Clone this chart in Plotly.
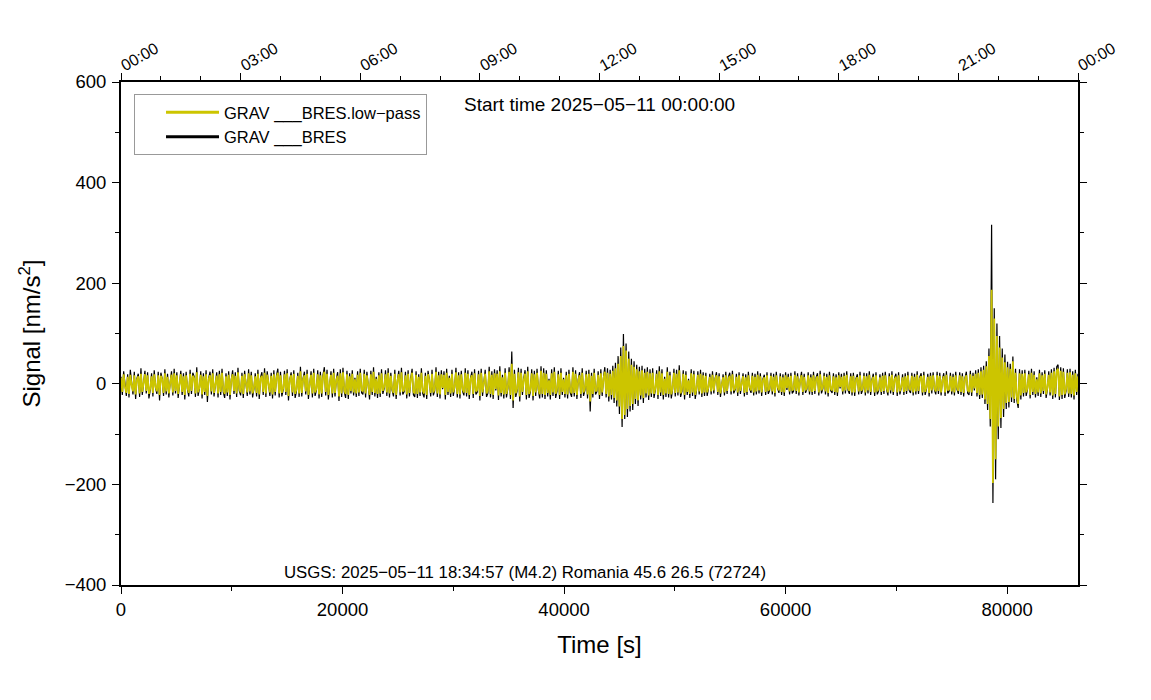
import plotly.graph_objects as go

# ---------------- data ----------------
SAMPLE_INTERVAL = 120  # seconds between samples

raw_signal = [
    14, -22, 25, -9, -24, 19, -27, 28, -4, -21, 24, -30, 11, 20, -26, 31, -22, 6, 26, -19, 23, -29, -12, 21, -25, 27, -8, -20, 24, -33, 22, 10, -24, 29, -21, 20, -27, 3, 25, -23,
    30, -19, 23, -28, 7, 26, -22, 21, -31, 24, -11, -25, 28, -20, 22, 15, -26, 33, -24, -9, 25, -29, 21, -22, 27, -36, 12, 24, -21, 29, -25, -5, 23, -27, 26, -22, 30, -17, -28, 21,
    -24, 25, -31, 9, 27, -20, 23, -26, 32, -14, -23, 22, -28, 26, 5, -24, 29, -21, 24, -27, -10, 21, -25, 28, -30, 13, 23, -22, 31, -26, 25, -8, -24, 22, -29, 27, -23, 17, 30, -27,
    24, -25, -12, 26, -22, 29, -33, 8, 23, -24, 27, -28, -15, 22, -26, 34, -25, 11, 24, -21, 28, -30, 6, 25, -27, 30, -24, -13, 27, -29, 24, -26, 18, 33, -23, 28, -31, -7, 25, -27,
    30, -25, 9, 23, -34, 29, -26, 32, -16, -28, 26, -30, 21, -19, 27, -23, 12, -26, 25, -24, 30, -18, -21, 28, -27, 24, -10, -31, 26, -22, 33, -25, 14, -28, 23, -26, 29, -20, -9, 27,
    -24, 31, -27, 22, -13, -25, 28, -30, 8, 26, -23, 32, -21, -16, 24, -29, 27, -25, 11, 30, -22, -26, 25, -28, 19, -24, 31, -19, -27, 22, -30, 26, 7, -25, 28, -23, -14, 33, -26, 24,
    -29, 27, -11, 25, -31, 30, -22, 16, -26, 28, -24, -8, 32, -27, 23, -29, 26, -15, -23, 31, -25, 27, -30, 12, 24, -28, 29, -21, -17, 26, -33, 30, -24, 9, 28, -26, -19, 34, -27, 25,
    -30, 29, -13, 27, -32, 35, -25, 18, -29, 31, -27, -10, 33, -30, 64, -48, 28, -26, -14, 32, -35, 30, -22, 11, 27, -31, 34, -28, -16, 29, -33, 26, -24, 30, -12, -29, 35, -27, 31, -30,
    27, -25, 10, -31, 29, -24, 33, -28, -15, 26, -30, 31, -22, 12, -27, 24, -29, 28, -18, -26, 33, -25, 27, -30, 9, 23, -28, 31, -24, -13, 26, -29, 28, -55, 22, -27, 30, -21, -16, 25,
    -30, 29, -24, 13, 33, -27, 31, -35, 28, -31, 36, -38, 42, -45, 55, -60, 72, -86, 99, -70, 80, -66, 64, -55, 50, -52, 45, -40, 38, -44, 34, -31, 36, -38, 30, -27, 33, -32, 29, -26,
    31, -28, -12, 27, -30, 35, -24, 29, -31, 14, -26, 33, -27, 24, -29, -11, 30, -25, 28, -23, 37, -26, -15, 27, -31, 25, -22, 10, -28, 29, -24, 26, -30, -13, 25, -21, 28, -26, 23, -24,
    22, -24, -9, 20, -21, 25, -19, 11, 23, -22, 21, -26, -8, 19, -23, 24, -20, 14, 22, -21, 26, -19, -12, 20, -24, 23, -20, 7, 21, -25, 19, -22, 24, -10, -18, 22, -23, 20, -21, 25,
    -19, 21, -24, 10, 18, -22, 23, -20, -13, 22, -21, 20, -25, 24, -9, -18, 21, -22, 19, -24, 23, -12, 20, -21, 22, -19, -15, 25, -20, 21, -23, 8, 24, -22, 20, -18, -11, 23, -21, 19,
    -22, 24, -20, 13, 21, -23, 26, -19, -10, 22, -21, 20, -25, 24, -14, -18, 21, -22, 19, -24, 23, -9, 20, -21, 22, -19, 25, -13, -20, 21, -23, 22, -24, 11, 19, -21, 24, -20, -12, 22,
    -23, 21, -19, 25, -22, 9, 20, -24, 23, -21, -14, 19, -22, 22, -20, 24, -11, -23, 21, -19, 25, -22, 12, 20, -24, 23, -21, -8, 19, -22, 21, -20, 24, -13, -18, 22, -23, 20, -21, 25,
    -20, 14, 21, -23, 24, -22, -10, 20, -25, 22, -19, 23, -12, -21, 24, -20, 22, -23, 9, 21, -24, 25, -19, -15, 22, -21, 20, -23, 24, -11, -20, 23, -22, 21, -25, 12, 24, -19, -22, 26,
    -24, 22, -13, 27, -25, 29, -30, 33, -28, 36, -40, 45, -52, 70, -85, 316, -237, 150, -190, 120, -110, 95, -88, 70, -66, 58, -50, 44, -47, 40, -36, 54, -38, 30, -33, -48, 29, -31, 27, -25,
    28, -24, -11, 26, -29, 30, -22, 25, -27, 13, -24, 28, -26, 23, -20, 27, -28, -10, 25, -23, 29, -30, 32, -27, 34, 38, -32, 33, -30, 31, -28, -14, 29, -26, 30, -27, 25, -31, 28, -22,
    20,
]

lowpass_signal = [
    12, -16, 19, -7, -18, 14, -20, 18, -3, -15, 17, -21, 8, 15, -19, 20, -16, 5, 19, -14, 17, -20, -9, 15, -18, 19, -6, -15, 17, -22, 16, 8, -18, 21, -15, 14, -19, 2, 18, -17,
    21, -14, 17, -20, 5, 19, -16, 15, -22, 17, -8, -18, 20, -14, 16, 11, -19, 23, -17, -7, 18, -21, 15, -16, 19, -24, 9, 17, -15, 21, -18, -4, 16, -19, 19, -16, 22, -12, -20, 15,
    -17, 18, -22, 7, 19, -14, 16, -19, 23, -10, -17, 16, -20, 19, 4, -17, 21, -15, 17, -19, -8, 15, -18, 20, -21, 10, 16, -16, 22, -19, 18, -6, -17, 16, -21, 19, -16, 12, 22, -19,
    17, -18, -9, 19, -16, 21, -24, 6, 17, -17, 20, -20, -11, 16, -19, 25, -18, 8, 17, -15, 20, -22, 4, 18, -19, 22, -17, -10, 19, -21, 17, -19, 13, 24, -16, 20, -22, -5, 18, -19,
    22, -18, 7, 16, -25, 21, -19, 23, -12, -20, 19, -22, 15, -14, 20, -17, 9, -19, 18, -17, 22, -13, -15, 20, -19, 17, -7, -22, 19, -16, 24, -18, 10, -20, 17, -19, 21, -14, -6, 19,
    -17, 22, -19, 16, -10, -18, 20, -22, 6, 19, -17, 23, -15, -12, 17, -21, 20, -18, 8, 22, -16, -19, 18, -20, 14, -17, 22, -14, -19, 16, -22, 19, 5, -18, 20, -17, -10, 24, -19, 17,
    -21, 19, -8, 18, -22, 22, -16, 12, -19, 20, -17, -6, 23, -20, 17, -21, 19, -11, -17, 22, -18, 20, -22, 9, 17, -20, 21, -15, -12, 19, -24, 22, -17, 7, 20, -19, -14, 25, -20, 18,
    -22, 21, -10, 20, -23, 25, -18, 13, -21, 22, -20, -7, 24, -22, 40, -33, 20, -19, -10, 23, -25, 22, -16, 8, 20, -22, 25, -20, -12, 21, -24, 19, -17, 22, -9, -21, 26, -20, 22, -22,
    20, -18, 7, -22, 21, -17, 24, -20, -11, 19, -22, 22, -16, 9, -20, 17, -21, 20, -13, -19, 24, -18, 20, -22, 6, 17, -20, 22, -17, -9, 19, -21, 20, -35, 16, -20, 22, -15, -12, 18,
    -22, 21, -17, 10, 24, -20, 22, -25, 20, -22, 26, -28, 31, -33, 40, -45, 55, -70, 75, -62, 66, -50, 50, -44, 38, -40, 34, -30, 29, -33, 25, -23, 27, -28, 22, -19, 24, -23, 21, -19,
    22, -20, -9, 20, -22, 25, -17, 21, -22, 10, -19, 24, -20, 17, -21, -8, 22, -18, 20, -17, 27, -19, -11, 20, -22, 18, -16, 7, -20, 21, -17, 19, -22, -9, 18, -15, 20, -19, 17, -17,
    16, -17, -6, 14, -15, 18, -13, 8, 17, -16, 15, -19, -6, 13, -17, 17, -14, 10, 16, -15, 19, -13, -9, 14, -17, 17, -14, 5, 15, -18, 13, -16, 17, -7, -13, 16, -17, 14, -15, 18,
    -13, 15, -17, 7, 13, -16, 17, -14, -9, 16, -15, 14, -18, 17, -6, -13, 15, -16, 13, -17, 17, -8, 14, -15, 16, -13, -11, 18, -14, 15, -17, 6, 17, -16, 14, -13, -8, 17, -15, 13,
    -16, 17, -14, 9, 15, -17, 19, -13, -7, 16, -15, 14, -18, 17, -10, -13, 15, -16, 13, -17, 17, -6, 14, -15, 16, -13, 18, -9, -14, 15, -17, 16, -17, 8, 13, -15, 17, -14, -9, 16,
    -17, 15, -13, 18, -16, 6, 14, -17, 17, -15, -10, 13, -16, 16, -14, 17, -8, -17, 15, -13, 18, -16, 9, 14, -17, 17, -15, -6, 13, -16, 15, -14, 17, -9, -13, 16, -17, 14, -15, 18,
    -14, 10, 15, -17, 17, -16, -7, 14, -18, 16, -13, 17, -9, -15, 17, -14, 16, -17, 6, 15, -17, 18, -13, -11, 16, -15, 14, -17, 17, -8, -14, 17, -16, 15, -18, 9, 17, -13, -16, 19,
    -17, 16, -9, 20, -18, 22, -22, 25, -21, 28, -31, 35, -40, 55, -70, 187, -197, 130, -150, 95, -85, 72, -68, 52, -50, 43, -38, 33, -36, 30, -27, 45, -30, 22, -25, -40, 21, -23, 20, -18,
    21, -17, -8, 19, -22, 22, -16, 18, -20, 9, -17, 21, -19, 17, -14, 20, -21, -7, 18, -17, 22, -23, 25, -20, 26, 30, -25, 26, -22, 24, -21, -10, 22, -19, 23, -20, 18, -23, 21, -16,
    15,
]

times = [i * SAMPLE_INTERVAL for i in range(len(raw_signal))]

hour_tick_values = [0, 10800, 21600, 32400, 43200, 54000, 64800, 75600, 86400]
hour_tick_labels = ["00:00", "03:00", "06:00", "09:00", "12:00", "15:00", "18:00", "21:00", "00:00"]

series_names = ["GRAV ___BRES", "GRAV ___BRES.low\u2212pass"]
start_text = "Start time 2025\u221205\u221211 00:00:00"
event_text = "USGS: 2025\u221205\u221211 18:34:57 (M4.2) Romania 45.6 26.5 (72724)"

# ---------------- figure ----------------
FONT = "Liberation Sans, Arial, Helvetica, sans-serif"
YELLOW = "rgb(204,197,0)"

fig = go.Figure()
# data traces (black raw underneath, yellow low-pass on top)
fig.add_trace(go.Scatter(x=times, y=raw_signal, mode="lines", name=series_names[0],
                         line=dict(color="black", width=1.2), showlegend=False))
fig.add_trace(go.Scatter(x=times, y=lowpass_signal, mode="lines", name=series_names[1],
                         line=dict(color=YELLOW, width=1.8), showlegend=False))
# legend entries (thicker sample lines, as in the reference)
fig.add_trace(go.Scatter(x=[None], y=[None], mode="lines", name=series_names[1],
                         line=dict(color=YELLOW, width=3)))
fig.add_trace(go.Scatter(x=[None], y=[None], mode="lines", name=series_names[0],
                         line=dict(color="black", width=3)))
# carrier for the top (clock time) axis
fig.add_trace(go.Scatter(x=[0, 86400], y=[None, None], xaxis="x2", mode="lines",
                         showlegend=False, hoverinfo="skip"))

fig.update_layout(
    width=1143, height=692,
    margin=dict(l=113, r=73, t=74, b=115),
    paper_bgcolor="white", plot_bgcolor="white",
    font=dict(family=FONT, color="black", size=18),
    showlegend=True,
    legend=dict(
        x=0.0136, y=0.976, xanchor="left", yanchor="top",
        bgcolor="white", bordercolor="#999999", borderwidth=1,
        font=dict(size=16.5, family=FONT),
        indentation=26, itemwidth=53, tracegroupgap=0,
    ),
    xaxis=dict(
        range=[0, 86400], showgrid=False, zeroline=False,
        tickmode="linear", tick0=0, dtick=20000, tickformat="d",
        ticks="outside", ticklen=7, tickwidth=1, tickcolor="black",
        showline=True, linewidth=2, linecolor="black",
        tickfont=dict(size=18.5),
        minor=dict(tickmode="linear", tick0=0, dtick=10000, ticks="outside", ticklen=4, tickcolor="black"),
        title=dict(text="Time [s]", font=dict(size=24), standoff=17),
        automargin=False,
    ),
    xaxis2=dict(
        overlaying="x", side="top", range=[0, 86400], showgrid=False, zeroline=False,
        tickmode="array", tickvals=hour_tick_values, ticktext=hour_tick_labels,
        tickangle=-30, ticks="outside", ticklen=7, tickwidth=1, tickcolor="black",
        showline=True, linewidth=2, linecolor="black",
        tickfont=dict(size=16), ticklabelstandoff=-6,
        minor=dict(tickmode="linear", tick0=0, dtick=3600, ticks="outside", ticklen=4, tickcolor="black"),
        automargin=False,
    ),
    yaxis=dict(
        range=[-400, 600], showgrid=False, zeroline=False,
        tickmode="linear", tick0=-400, dtick=200,
        ticks="outside", ticklen=7, tickwidth=1, tickcolor="black",
        showline=True, linewidth=2, linecolor="black", mirror="ticks",
        tickfont=dict(size=18.5), ticklabelstandoff=2,
        minor=dict(tickmode="linear", tick0=-400, dtick=100, ticks="outside", ticklen=4, tickcolor="black"),
        title=dict(text="Signal [nm/s<sup>2</sup>]", font=dict(size=24), standoff=17),
        automargin=False,
    ),
    annotations=[
        dict(text=start_text, xref="paper", yref="paper", x=0.5, y=0.956,
             xanchor="center", yanchor="middle", showarrow=False, font=dict(size=19)),
        dict(text=event_text, xref="paper", yref="paper", x=0.422, y=0.0,
             xanchor="center", yanchor="bottom", yshift=1, showarrow=False, font=dict(size=16.8)),
    ],
)

fig.write_html("out.html")
